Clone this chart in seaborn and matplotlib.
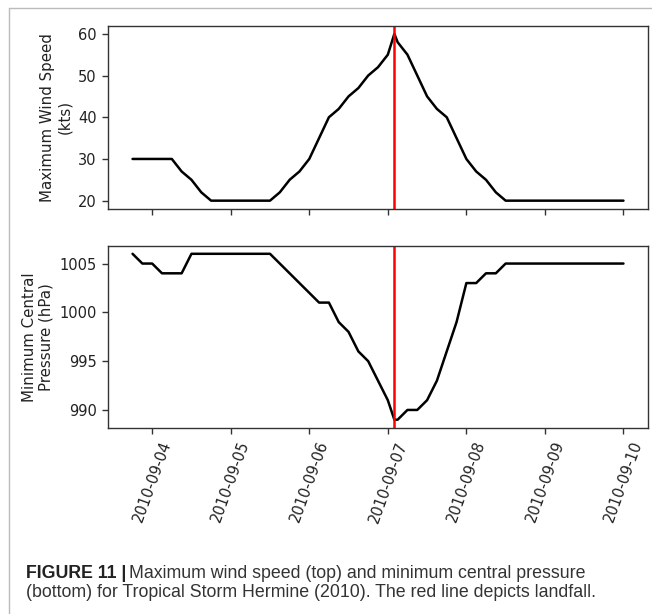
import matplotlib
matplotlib.use("Agg")
import matplotlib.pyplot as plt
import matplotlib.dates as mdates
import seaborn as sns
import pandas as pd
from matplotlib.lines import Line2D

# ---- data ----
times = [
    "2010-09-03 18:00", "2010-09-03 21:00",
    "2010-09-04 00:00", "2010-09-04 03:00", "2010-09-04 06:00", "2010-09-04 09:00",
    "2010-09-04 12:00", "2010-09-04 15:00", "2010-09-04 18:00", "2010-09-04 21:00",
    "2010-09-05 00:00", "2010-09-05 03:00", "2010-09-05 06:00", "2010-09-05 09:00",
    "2010-09-05 12:00", "2010-09-05 15:00", "2010-09-05 18:00", "2010-09-05 21:00",
    "2010-09-06 00:00", "2010-09-06 03:00", "2010-09-06 06:00", "2010-09-06 09:00",
    "2010-09-06 12:00", "2010-09-06 15:00", "2010-09-06 18:00", "2010-09-06 21:00",
    "2010-09-07 00:00", "2010-09-07 02:00", "2010-09-07 03:00", "2010-09-07 06:00",
    "2010-09-07 09:00", "2010-09-07 12:00", "2010-09-07 15:00", "2010-09-07 18:00",
    "2010-09-07 21:00",
    "2010-09-08 00:00", "2010-09-08 03:00", "2010-09-08 06:00", "2010-09-08 09:00",
    "2010-09-08 12:00", "2010-09-08 15:00", "2010-09-08 18:00", "2010-09-08 21:00",
    "2010-09-09 00:00", "2010-09-09 03:00", "2010-09-09 06:00", "2010-09-09 09:00",
    "2010-09-09 12:00", "2010-09-09 15:00", "2010-09-09 18:00", "2010-09-09 21:00",
    "2010-09-10 00:00",
]
wind_kts = [
    30, 30,
    30, 30, 30, 27, 25, 22, 20, 20,
    20, 20, 20, 20, 20, 22, 25, 27,
    30, 35, 40, 42, 45, 47, 50, 52,
    55, 60, 58, 55, 50, 45, 42, 40, 35,
    30, 27, 25, 22, 20, 20, 20, 20,
    20, 20, 20, 20, 20, 20, 20, 20,
    20,
]
pressure_hpa = [
    1006, 1005,
    1005, 1004, 1004, 1004, 1006, 1006, 1006, 1006,
    1006, 1006, 1006, 1006, 1006, 1005, 1004, 1003,
    1002, 1001, 1001, 999, 998, 996, 995, 993,
    991, 989, 989, 990, 990, 991, 993, 996, 999,
    1003, 1003, 1004, 1004, 1005, 1005, 1005, 1005,
    1005, 1005, 1005, 1005, 1005, 1005, 1005, 1005,
    1005,
]
landfall = "2010-09-07 02:00"
tick_dates = ["2010-09-04", "2010-09-05", "2010-09-06", "2010-09-07",
              "2010-09-08", "2010-09-09", "2010-09-10"]

df = pd.DataFrame({"time": pd.to_datetime(times),
                   "wind": wind_kts, "pressure": pressure_hpa})

sns.set_theme(style="ticks")
plt.rcParams["font.family"] = ["DejaVu Sans"]
plt.rcParams["axes.edgecolor"] = "#333333"
plt.rcParams["xtick.color"] = "#333333"
plt.rcParams["ytick.color"] = "#333333"
plt.rcParams["xtick.labelcolor"] = "#222222"
plt.rcParams["ytick.labelcolor"] = "#222222"

W, H = 652, 614
fig = plt.figure(figsize=(W / 100, H / 100), dpi=100)
fig.patch.set_facecolor("white")

ax1 = fig.add_axes([108 / W, 1 - 209 / H, 540 / W, 183.5 / H])
ax2 = fig.add_axes([108 / W, 1 - 428 / H, 540 / W, 182.5 / H], sharex=ax1)

fs = 10.5
sns.lineplot(data=df, x="time", y="wind", ax=ax1, color="black", linewidth=1.8)
sns.lineplot(data=df, x="time", y="pressure", ax=ax2, color="black", linewidth=1.8)

lf = pd.Timestamp(landfall)
for ax in (ax1, ax2):
    ax.axvline(lf, color="red", linewidth=1.8)
    ax.tick_params(labelsize=fs, length=4.5, width=1)
    for s in ax.spines.values():
        s.set_linewidth(1.0)
    ax.margins(x=0.05, y=0.05)

ax1.set_ylabel("Maximum Wind Speed\n(kts)", fontsize=10.8, color="#222222")
ax2.set_ylabel("Minimum Central\nPressure (hPa)", fontsize=10.8, color="#222222")
ax1.set_xlabel("")
ax2.set_xlabel("")
ax1.set_yticks([20, 30, 40, 50, 60])
ax2.set_yticks([990, 995, 1000, 1005])

ax2.set_xticks(pd.to_datetime(tick_dates))
ax2.xaxis.set_major_formatter(mdates.DateFormatter("%Y-%m-%d"))
plt.setp(ax1.get_xticklabels(), visible=False)
for lab in ax2.get_xticklabels():
    lab.set_rotation(70)
    lab.set_ha("center")

# frame lines around the figure panel
fig.add_artist(Line2D([9 / W, 9 / W], [0, 1 - 8 / H], transform=fig.transFigure,
                      color="#bbbbbb", linewidth=1))
fig.add_artist(Line2D([9 / W, 1], [1 - 8 / H, 1 - 8 / H], transform=fig.transFigure,
                      color="#bbbbbb", linewidth=1))

# caption
cap_font = ["Liberation Sans", "DejaVu Sans"]
cap_fs = 12.8
cap_col = "#333333"
t1 = fig.text(26 / W, 1 - 578 / H, "FIGURE 11 |", fontsize=cap_fs, fontweight="bold",
              family=cap_font, color="#222222", va="baseline")
fig.canvas.draw()
r = fig.canvas.get_renderer()
bb = t1.get_window_extent(r)
fig.text((bb.x1 + 3) / W, 1 - 578 / H,
         "Maximum wind speed (top) and minimum central pressure",
         fontsize=cap_fs, family=cap_font, color=cap_col, va="baseline")
fig.text(26 / W, 1 - 597 / H,
         "(bottom) for Tropical Storm Hermine (2010). The red line depicts landfall.",
         fontsize=cap_fs, family=cap_font, color=cap_col, va="baseline")

fig.savefig("out.png", dpi=100, facecolor="white")
